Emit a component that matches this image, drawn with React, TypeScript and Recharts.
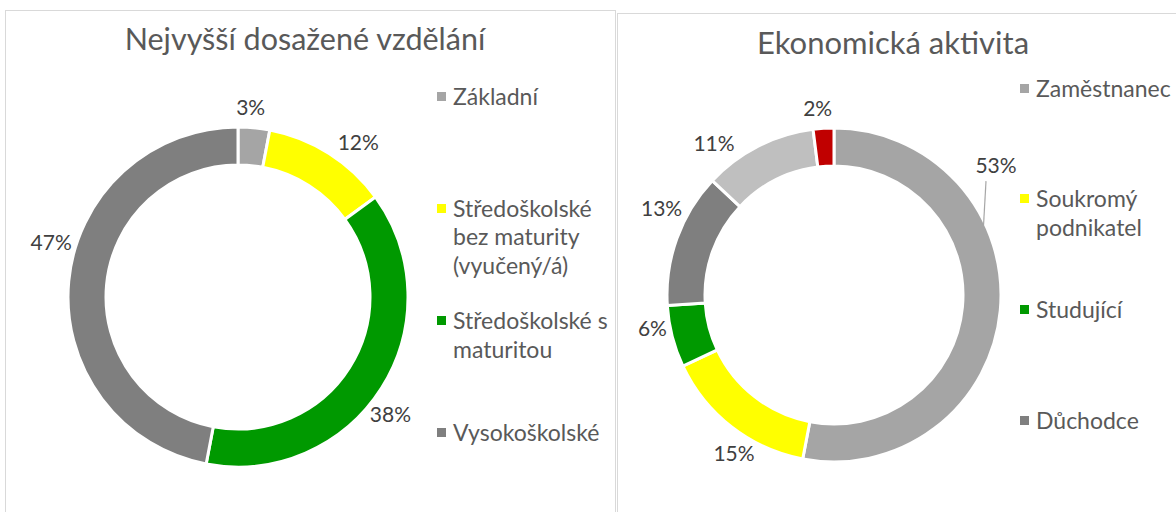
import React from "react";
import { PieChart, Pie, Cell } from "recharts";

// Nejvyšší dosažené vzdělání
const eduNames = [
  "Základní",
  "Středoškolské bez maturity (vyučený/á)",
  "Středoškolské s maturitou",
  "Vysokoškolské",
];
const eduValues = [3, 12, 38, 47];
const eduColors = ["#a5a5a5", "#ffff00", "#009900", "#7f7f7f"];

// Ekonomická aktivita (only the first four legend entries are visible in the crop)
const ecoNames = [
  "Zaměstnanec",
  "Soukromý podnikatel",
  "Studující",
  "Důchodce",
  "Nezaměstnaný",
  "Jiné",
];
const ecoValues = [53, 15, 6, 13, 11, 2];
const ecoColors = ["#a5a5a5", "#ffff00", "#009900", "#7f7f7f", "#bfbfbf", "#c00000"];

const eduData = eduNames.map((name, i) => ({ name, value: eduValues[i] }));
const ecoData = ecoNames.map((name, i) => ({ name, value: ecoValues[i] }));

// hand-placed labels in the original: small angle nudges (degrees, clockwise)
const eduLabelNudge = [-1.5, 6, 6, 10];
const ecoLabelNudge = [0, -6, 3, 6, -12, -1.5];

const FONT = "Lato, 'Open Sans', sans-serif";
const TEXT = "#595959";
const LABEL = "#404040";
const RADIAN = Math.PI / 180;

const renderLabel = (nudge: number[], moved?: { angle: number; dist: number; edge: number }) => (props: any) => {
  const { cx, cy, midAngle, outerRadius, percent, index } = props;
  const text = `${Math.round(percent * 100)}%`;
  if (moved && index === 0) {
    // label dragged away from its slice, with a leader line
    const a = (90 - moved.angle) * RADIAN;
    const x = cx + moved.dist * Math.cos(a);
    const y = cy - moved.dist * Math.sin(a);
    const e = (90 - moved.edge) * RADIAN;
    const ex = cx + (outerRadius - 2) * Math.cos(e);
    const ey = cy - (outerRadius - 2) * Math.sin(e);
    return (
      <g>
        <line x1={x - 10} y1={y + 15} x2={ex} y2={ey} stroke="#a6a6a6" strokeWidth={1.2} />
        <text x={x} y={y - 2} textAnchor="middle" dominantBaseline="central" fill={LABEL}
          fontSize={21} fontFamily={FONT}>
          {text}
        </text>
      </g>
    );
  }
  const ang = midAngle - (nudge[index] || 0);
  const w = text.length * 10.5;
  const h = 20;
  const c = Math.cos(-ang * RADIAN);
  const s = Math.sin(-ang * RADIAN);
  const r = outerRadius + 6 + (w / 2) * Math.abs(c) + (h / 2) * Math.abs(s);
  return (
    <text x={cx + r * c} y={cy + r * s - 4} textAnchor="middle" dominantBaseline="central"
      fill={LABEL} fontSize={21} fontFamily={FONT}>
      {text}
    </text>
  );
};

function Legend({ names, colors, left, top, pitch, width, count }: any) {
  return (
    <>
      {names.slice(0, count).map((n: string, i: number) => (
        <div key={n} style={{ position: "absolute", left, top: top + i * pitch, display: "flex", alignItems: "flex-start" }}>
          <div style={{ width: 9, height: 9, background: colors[i], marginTop: 10, marginRight: 7 }} />
          <div style={{ width, fontSize: 23, lineHeight: "28.5px", color: TEXT }}>{n}</div>
        </div>
      ))}
    </>
  );
}

export default function App() {
  return (
    <div style={{ position: "absolute", left: 0, top: 0, width: 1176, height: 512, overflow: "hidden", background: "#fff", fontFamily: FONT }}>
      <div style={{ position: "absolute", left: 5, top: 10, width: 609, height: 600, border: "1px solid #d9d9d9" }} />
      <div style={{ position: "absolute", left: 617, top: 13, width: 620, height: 600, border: "1px solid #d9d9d9" }} />

      <div style={{ position: "absolute", left: 5, top: 20, width: 600, textAlign: "center", fontSize: 30.5, color: TEXT }}>
        Nejvyšší dosažené vzdělání
      </div>
      <div style={{ position: "absolute", left: 617, top: 23, width: 552, textAlign: "center", fontSize: 31, color: TEXT }}>
        Ekonomická aktivita
      </div>

      <div style={{ position: "absolute", left: 0, top: 0 }}>
        <PieChart width={1176} height={512}>
          <Pie data={eduData} dataKey="value" nameKey="name" cx={233} cy={292}
            innerRadius={132} outerRadius={170} startAngle={90} endAngle={-270}
            stroke="#ffffff" strokeWidth={3} labelLine={false} label={renderLabel(eduLabelNudge)}
            isAnimationActive={false}>
            {eduData.map((d, i) => <Cell key={d.name} fill={eduColors[i]} />)}
          </Pie>
          <Pie data={ecoData} dataKey="value" nameKey="name" cx={829} cy={290}
            innerRadius={129} outerRadius={167} startAngle={90} endAngle={-270}
            stroke="#ffffff" strokeWidth={3} labelLine={false}
            label={renderLabel(ecoLabelNudge, { angle: 51.5, dist: 207, edge: 65 })}
            isAnimationActive={false}>
            {ecoData.map((d, i) => <Cell key={d.name} fill={ecoColors[i]} />)}
          </Pie>
        </PieChart>
      </div>

      <Legend names={eduNames} colors={eduColors} left={437} top={81.5} pitch={112.3} width={160} count={4} />
      <Legend names={ecoNames} colors={ecoColors} left={1020} top={73.5} pitch={110.7} width={150} count={4} />
    </div>
  );
}
